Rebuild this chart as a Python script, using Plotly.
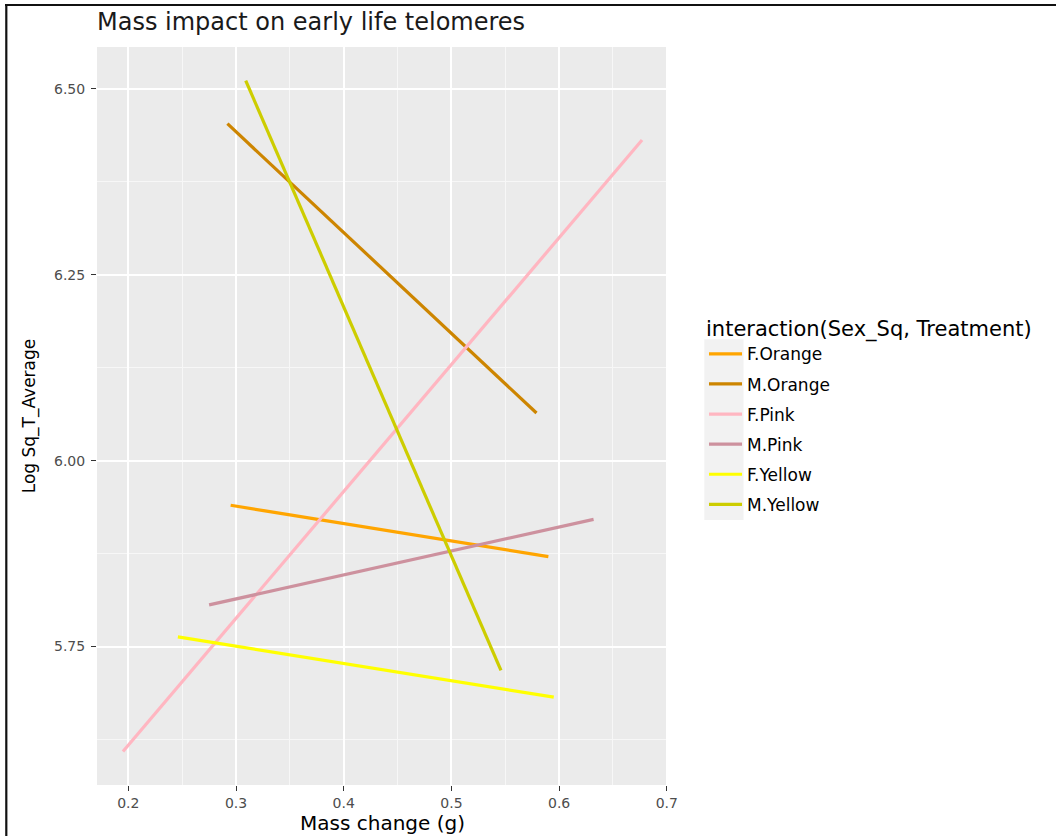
import plotly.graph_objects as go

# ---- data ----
groups = ["F.Orange", "M.Orange", "F.Pink", "M.Pink", "F.Yellow", "M.Yellow"]
x_start = [0.295, 0.292, 0.195, 0.275, 0.246, 0.309]
x_end = [0.590, 0.579, 0.677, 0.632, 0.595, 0.546]
y_start = [5.940, 6.453, 5.609, 5.806, 5.763, 6.511]
y_end = [5.871, 6.064, 6.431, 5.921, 5.682, 5.718]
colors = ["#FFA500", "#CD8500", "#FFB6C1", "#CD919E", "#FFFF00", "#CDCD00"]

x_ticks = [0.2, 0.3, 0.4, 0.5, 0.6, 0.7]
x_ticklabels = ["0.2", "0.3", "0.4", "0.5", "0.6", "0.7"]
y_ticks = [5.75, 6.00, 6.25, 6.50]
y_ticklabels = ["5.75", "6.00", "6.25", "6.50"]

title = "Mass impact on early life telomeres"
x_title = "Mass change (g)"
y_title = "Log Sq_T_Average"
legend_title = "interaction(Sex_Sq, Treatment)"

# ---- layout geometry (pixels) ----
W, H = 1056, 836
ML, MR, MT, MB = 97, 388, 47, 51
PW, PH = W - ML - MR, H - MT - MB


def px_x(p):
    return (p - ML) / PW


def px_y(p):
    return 1 - (p - MT) / PH


# ggplot-style 5% expansion
allx = x_start + x_end
ally = y_start + y_end
sx = max(allx) - min(allx)
sy = max(ally) - min(ally)
xr = [min(allx) - 0.05 * sx, max(allx) + 0.05 * sx]
yr = [min(ally) - 0.05 * sy, max(ally) + 0.05 * sy]

FONT = "DejaVu Sans"

fig = go.Figure()
for g, xs, xe, ys, ye, c in zip(groups, x_start, x_end, y_start, y_end, colors):
    fig.add_trace(go.Scatter(
        x=[xs, xe], y=[ys, ye], mode="lines", name=g, legendgroup=g,
        line=dict(color=c, width=3.2),
    ))

shapes = [
    # legend key background
    dict(type="rect", xref="paper", yref="paper",
         x0=px_x(704.3), x1=px_x(743.5), y0=px_y(520), y1=px_y(339.3),
         fillcolor="#F2F2F2", line=dict(width=0), layer="below"),
    # image frame (top and left)
    dict(type="line", xref="paper", yref="paper",
         x0=px_x(5), x1=px_x(1060), y0=px_y(5), y1=px_y(5),
         line=dict(color="#111111", width=2.2)),
    dict(type="line", xref="paper", yref="paper",
         x0=px_x(6.3), x1=px_x(6.3), y0=px_y(5), y1=px_y(840),
         line=dict(color="#111111", width=2.2)),
]

axis_common = dict(
    showline=False, zeroline=False,
    gridcolor="white", gridwidth=1.6,
    ticks="outside", ticklen=5, tickwidth=1.1, tickcolor="#333333",
    tickfont=dict(family=FONT, size=14, color="#4D4D4D"),
    minor=dict(showgrid=True, gridcolor="#F7F7F7", gridwidth=0.8, ticks=""),
)

fig.update_layout(
    width=W, height=H,
    margin=dict(l=ML, r=MR, t=MT, b=MB, autoexpand=False),
    paper_bgcolor="white", plot_bgcolor="#EBEBEB",
    title=dict(text=title, x=0, xref="paper", xanchor="left",
               y=1 - 22 / H, yref="container", yanchor="middle",
               font=dict(family=FONT, size=24, color="#1A1A1A")),
    xaxis=dict(range=xr, tickvals=x_ticks, ticktext=x_ticklabels,
               title=dict(text=x_title, standoff=6,
                          font=dict(family=FONT, size=20, color="#000000")),
               **axis_common),
    yaxis=dict(range=yr, tickvals=y_ticks, ticktext=y_ticklabels,
               ticklabelstandoff=3,
               title=dict(text=y_title, standoff=14,
                          font=dict(family=FONT, size=17, color="#000000")),
               **axis_common),
    legend=dict(
        x=px_x(704), y=px_y(309), xanchor="left", yanchor="top",
        bgcolor="rgba(0,0,0,0)", borderwidth=0,
        title=dict(text=legend_title, font=dict(family=FONT, size=21, color="#000000")),
        font=dict(family=FONT, size=17, color="#000000"),
        tracegroupgap=5, itemwidth=33,
    ),
    shapes=shapes,
)
fig.update_xaxes(minor=dict(tickvals=[0.25, 0.35, 0.45, 0.55, 0.65]))
fig.update_yaxes(minor=dict(tickvals=[5.625, 5.875, 6.125, 6.375]))

fig.write_html("out.html")
